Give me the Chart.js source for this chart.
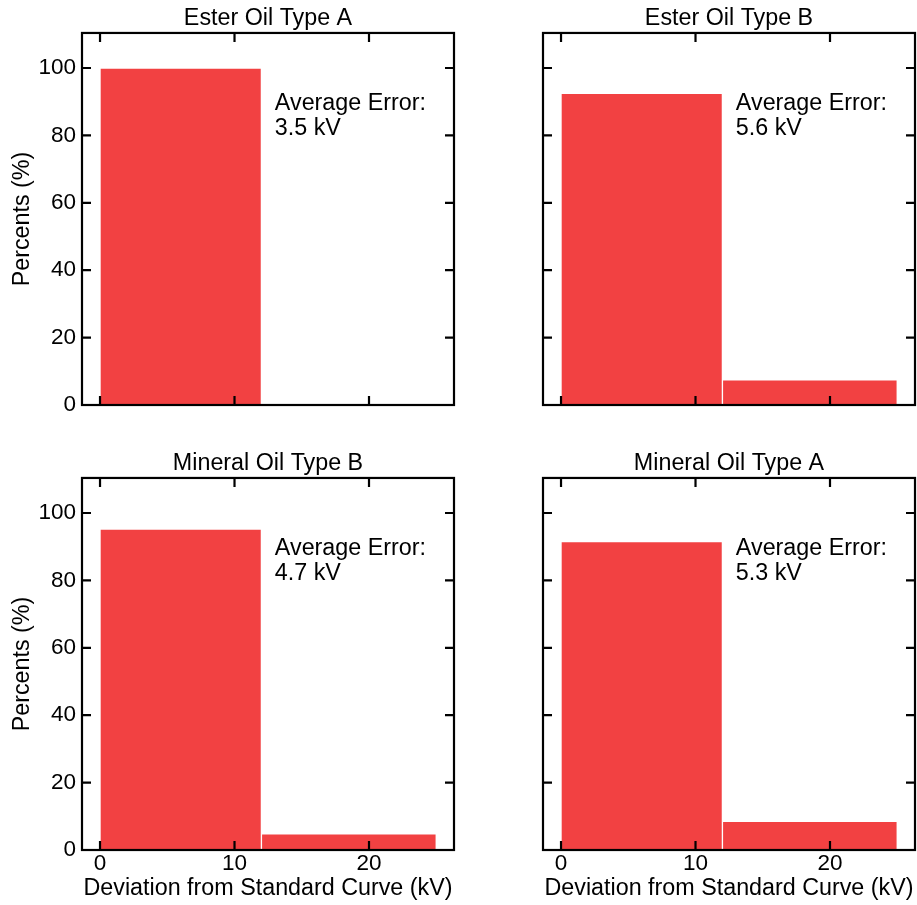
<!DOCTYPE html>
<html lang="en">
<head>
    <meta charset="UTF-8">
    <title>Deviation from Standard Curve</title>
    <style>
        body {
            margin: 0;
            padding: 0;
            background: #fff;
        }
        .page {
            position: relative;
            width: 917px;
            height: 905px;
        }
        .page canvas {
            position: absolute;
        }
    </style>
</head>
<body>
    <div class="page">
        <canvas id="c-ester-a" width="456" height="445" style="left:0;top:0"></canvas>
        <canvas id="c-ester-b" width="456" height="445" style="left:461px;top:0"></canvas>
        <canvas id="c-mineral-b" width="456" height="460" style="left:0;top:445px"></canvas>
        <canvas id="c-mineral-a" width="456" height="460" style="left:461px;top:445px"></canvas>
    </div>

    <script src="https://cdn.jsdelivr.net/npm/chart.js"></script>
    <script>
// histogram bins (kV) and percentages per oil
const binEdges = [0, 12, 25];
const esterA = [100, 0];
const esterB = [92.5, 7.5];
const mineralB = [95.2, 4.8];
const mineralA = [91.5, 8.5];
const avgErrors = ['3.5 kV', '5.6 kV', '4.7 kV', '5.3 kV'];
const panelTitles = ['Ester Oil Type A', 'Ester Oil Type B', 'Mineral Oil Type B', 'Mineral Oil Type A'];
const xTicks = [0, 10, 20];
const yTicks = [0, 20, 40, 60, 80, 100];

const FONT = "'Liberation Sans', Arial, sans-serif";
const TEXT_SIZE = 23.3;
const RED = 'rgb(242, 65, 66)';
Chart.defaults.font.family = FONT;
Chart.defaults.color = '#000';

// box around the plot with ticks pointing inward on all four sides
const framePlugin = {
    id: 'frame',
    afterDraw(chart) {
        const {ctx, chartArea: a, scales} = chart;
        ctx.save();
        ctx.strokeStyle = '#000';
        ctx.lineWidth = 2.2;
        const len = 9;
        ctx.beginPath();
        scales.x.ticks.forEach(t => {
            const px = scales.x.getPixelForValue(t.value);
            ctx.moveTo(px, a.bottom); ctx.lineTo(px, a.bottom - len);
            ctx.moveTo(px, a.top); ctx.lineTo(px, a.top + len);
        });
        scales.y.ticks.forEach(t => {
            const py = scales.y.getPixelForValue(t.value);
            ctx.moveTo(a.left, py); ctx.lineTo(a.left + len, py);
            ctx.moveTo(a.right, py); ctx.lineTo(a.right - len, py);
        });
        ctx.stroke();
        ctx.strokeRect(a.left, a.top, a.right - a.left, a.bottom - a.top);
        ctx.restore();
    }
};

// "Average Error" note, placed in data coordinates
const notePlugin = {
    id: 'note',
    afterDatasetsDraw(chart, args, opts) {
        const {ctx, scales} = chart;
        const x = scales.x.getPixelForValue(13);
        const y = scales.y.getPixelForValue(87.4);
        ctx.save();
        ctx.font = TEXT_SIZE + 'px ' + FONT;
        ctx.fillStyle = '#000';
        ctx.textAlign = 'left';
        ctx.textBaseline = 'alphabetic';
        ctx.fillText('Average Error:', x, y);
        ctx.fillText(opts.value, x, y + 25);
        ctx.restore();
    }
};

function binDatasets(values) {
    return values.map((v, i) => ({
        label: binEdges[i] + '-' + binEdges[i + 1] + ' kV',
        data: [{x: (binEdges[i] + binEdges[i + 1]) / 2, y: v}],
        backgroundColor: RED,
        borderColor: 'rgba(255, 255, 255, 0.75)',
        borderWidth: 1,
        grouped: false,
        barThickness: ctx => {
            const s = ctx.chart.scales.x;
            return s.getPixelForValue(binEdges[i + 1]) - s.getPixelForValue(binEdges[i]);
        }
    }));
}

function makePanel(id, idx, values, showX, showY) {
    const canvas = document.getElementById(id);
    const xHeight = canvas.height - 405;
    new Chart(canvas, {
        type: 'bar',
        data: {datasets: binDatasets(values)},
        options: {
            responsive: false,
            animation: false,
            layout: {padding: {left: 0, right: 2, top: 0, bottom: 0}},
            plugins: {
                legend: {display: false},
                tooltip: {enabled: false},
                title: {
                    display: true,
                    fullSize: false,
                    text: panelTitles[idx],
                    color: '#000',
                    font: {size: TEXT_SIZE, weight: 'normal'},
                    padding: {top: 4.5, bottom: 0.5}
                },
                note: {value: avgErrors[idx]}
            },
            scales: {
                x: {
                    type: 'linear',
                    offset: false,
                    min: -1.34,
                    max: 26.32,
                    afterBuildTicks: s => { s.ticks = xTicks.map(v => ({value: v})); },
                    ticks: {display: showX, font: {size: 22.5}, padding: 0, maxRotation: 0},
                    grid: {display: false, drawTicks: false},
                    border: {display: false},
                    title: {
                        display: showX,
                        text: 'Deviation from Standard Curve (kV)',
                        font: {size: TEXT_SIZE},
                        padding: {top: 0, bottom: 2.7}
                    },
                    afterFit: s => { s.height = xHeight; }
                },
                y: {
                    type: 'linear',
                    min: 0,
                    max: 110.4,
                    afterBuildTicks: s => { s.ticks = yTicks.map(v => ({value: v})); },
                    ticks: {display: showY, font: {size: 22.5}, padding: 6},
                    grid: {display: false, drawTicks: false},
                    border: {display: false},
                    title: {
                        display: showY,
                        text: 'Percents (%)',
                        font: {size: TEXT_SIZE},
                        padding: {top: 9, bottom: 0}
                    },
                    afterFit: s => { s.width = 82; }
                }
            }
        },
        plugins: [notePlugin, framePlugin]
    });
}

makePanel('c-ester-a', 0, esterA, false, true);
makePanel('c-ester-b', 1, esterB, false, false);
makePanel('c-mineral-b', 2, mineralB, true, true);
makePanel('c-mineral-a', 3, mineralA, true, false);
    </script>
</body>
</html>
